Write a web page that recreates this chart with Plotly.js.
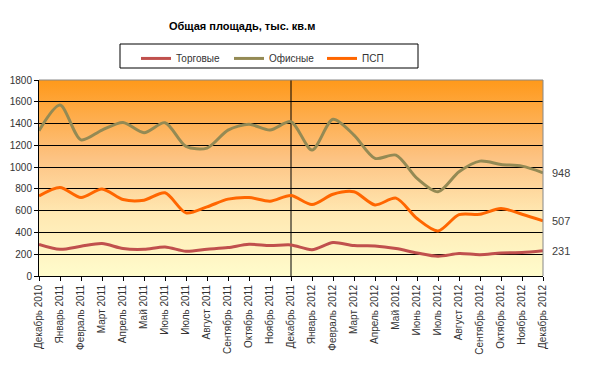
<!DOCTYPE html>
<html>
<head>
<meta charset="utf-8">
<script src="https://cdn.plot.ly/plotly-3.0.1.min.js"></script>
<style>html,body{margin:0;padding:0;background:#fff;}#chart{width:600px;height:368px;}</style>
</head>
<body>
<div id="chart"></div>
<script>
const categories = ["Декабрь 2010","Январь 2011","Февраль 2011","Март 2011","Апрель 2011","Май 2011","Июнь 2011","Июль 2011","Август 2011","Сентябрь 2011","Октябрь 2011","Ноябрь 2011","Декабрь 2011","Январь 2012","Февраль 2012","Март 2012","Апрель 2012","Май 2012","Июнь 2012","Июль 2012","Август 2012","Сентябрь 2012","Октябрь 2012","Ноябрь 2012","Декабрь 2012"];
const torgovye = [291,245,273,298,252,245,267,227,245,261,291,279,285,242,307,279,276,252,212,181,206,196,212,215,231];
const ofisnye = [1334,1570,1250,1340,1410,1316,1408,1190,1175,1340,1393,1340,1417,1157,1439,1294,1080,1110,896,773,957,1055,1025,1009,948];
const psp = [735,813,721,800,702,696,764,580,635,706,721,687,739,656,751,773,653,715,528,414,564,567,620,567,507];
const seriesNames = ["Торговые","Офисные","ПСП"];
const seriesColors = ["#C0504D","#948A54","#FF6600"];
const dividerCategory = "Декабрь 2011";
const titleText = "Общая площадь, тыс. кв.м";

const allSeries = [torgovye, ofisnye, psp];
const traces = allSeries.map((vals, i) => ({
  type: "scatter", mode: "lines", x: categories, y: vals, name: seriesNames[i],
  line: {color: seriesColors[i], width: 3, shape: "spline", smoothing: 0.8},
  hoverinfo: "skip"
}));

const last = categories.length - 1;
const annotations = allSeries.map(vals => ({
  x: categories[last], y: vals[last], xref: "x", yref: "y",
  text: String(vals[last]), showarrow: false, xanchor: "left", xshift: 7,
  font: {family: "Arial, Liberation Sans, sans-serif", size: 11, color: "#404040"}
}));

const grad = '<svg xmlns="http://www.w3.org/2000/svg" width="100" height="100" preserveAspectRatio="none"><defs><linearGradient id="g" x1="0" y1="0" x2="0" y2="1"><stop offset="0" stop-color="#FF991A"/><stop offset="0.4" stop-color="#FDC383"/><stop offset="0.68" stop-color="#FFE8B2"/><stop offset="1" stop-color="#FFFCCC"/></linearGradient></defs><rect width="100" height="100" fill="url(#g)"/></svg>';

const font = {family: "Arial, Liberation Sans, sans-serif", size: 10, color: "#333"};
const layout = {
  width: 600, height: 368,
  margin: {l: 39, r: 57, t: 80, b: 92},
  paper_bgcolor: "#fff", plot_bgcolor: "rgba(0,0,0,0)",
  font: font,
  title: {text: "<b>" + titleText + "</b>", font: {family: "Arial, Liberation Sans, sans-serif", size: 11, color: "#000"},
          x: 0.403, xref: "paper", xanchor: "center", y: 1 - 26/368, yref: "container", yanchor: "middle"},
  showlegend: true,
  legend: {orientation: "h", x: (136 - 39) / 504, xanchor: "left", y: 1.184, yanchor: "top",
           borderwidth: 0, bgcolor: "rgba(0,0,0,0)",
           font: {family: "Arial, Liberation Sans, sans-serif", size: 10, color: "#333"},
           entrywidth: 48, entrywidthmode: "pixels", itemwidth: 30},
  xaxis: {type: "category", range: [0, last], showgrid: false, showline: true, linecolor: "#000", linewidth: 1,
          ticks: "outside", ticklen: 4, tickcolor: "#000", tickangle: -90, tickfont: font, fixedrange: true},
  yaxis: {range: [0, 1800], dtick: 200, showgrid: true, gridcolor: "#000", gridwidth: 1,
          showline: true, linecolor: "#000", linewidth: 1, ticks: "outside", ticklen: 4, tickcolor: "#000",
          tickfont: font, zeroline: false, fixedrange: true},
  images: [{source: "data:image/svg+xml;charset=utf-8," + encodeURIComponent(grad), xref: "paper", yref: "paper",
            x: 0, y: 1, sizex: 1, sizey: 1, sizing: "stretch", layer: "below", xanchor: "left", yanchor: "top"}],
  shapes: [
    {type: "line", xref: "x", yref: "paper", x0: dividerCategory, x1: dividerCategory, y0: 0, y1: 1, line: {color: "#000", width: 1}, layer: "below"},
    {type: "line", xref: "paper", yref: "paper", x0: 0, x1: 1, y0: 1, y1: 1, line: {color: "#888", width: 1}},
    {type: "line", xref: "paper", yref: "paper", x0: 1, x1: 1, y0: 0, y1: 1, line: {color: "#888", width: 1}},
    {type: "rect", xref: "paper", yref: "paper", x0: (120 - 39) / 504, x1: (418 - 39) / 504, y0: (276 - 68) / 196, y1: (276 - 44) / 196,
     line: {color: "#000", width: 1}, fillcolor: "#fff", layer: "below"}
  ],
  annotations: annotations
};
Plotly.newPlot("chart", traces, layout, {staticPlot: true, displayModeBar: false});
</script>
</body>
</html>
